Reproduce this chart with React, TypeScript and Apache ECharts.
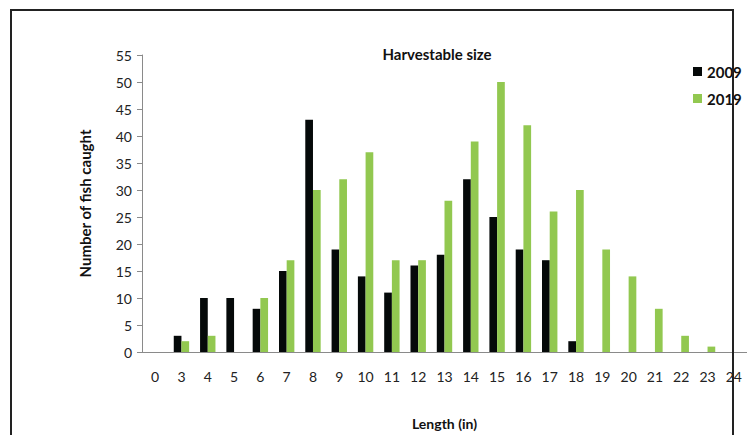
import React, { useEffect, useRef } from "react";
import * as echarts from "echarts";

const categories = ["0", "3", "4", "5", "6", "7", "8", "9", "10", "11", "12", "13", "14", "15", "16", "17", "18", "19", "20", "21", "22", "23", "24"];
const values2009 = [0, 3, 10, 10, 8, 15, 43, 19, 14, 11, 16, 18, 32, 25, 19, 17, 2, 0, 0, 0, 0, 0, 0];
const values2019 = [0, 2, 3, 0, 10, 17, 30, 32, 37, 17, 17, 28, 39, 50, 42, 26, 30, 19, 14, 8, 3, 1, 0];
const seriesNames = ["2009", "2019"];

const FONT = "Lato, 'Open Sans', sans-serif";

export default function App() {
  const ref = useRef<HTMLDivElement>(null);
  useEffect(() => {
    if (!ref.current) return;
    const chart = echarts.init(ref.current, null, { renderer: "svg" });
    chart.setOption({
      animation: false,
      backgroundColor: "#ffffff",
      textStyle: { fontFamily: FONT },
      title: {
        text: "Harvestable size",
        left: 432,
        top: 41,
        textAlign: "center",
        textStyle: { fontSize: 15, fontWeight: "bold", color: "#111", fontFamily: FONT },
      },
      legend: {
        orient: "vertical",
        left: 688,
        top: 59,
        itemWidth: 9,
        itemHeight: 9,
        itemGap: 12,
        icon: "rect",
        textStyle: { fontSize: 15, fontWeight: "bold", color: "#111", fontFamily: FONT },
        data: seriesNames,
      },
      grid: { left: 142, top: 55, right: -10, bottom: 82, containLabel: false },
      xAxis: {
        type: "category",
        data: categories,
        axisLine: { lineStyle: { color: "#8a8a8a", width: 1 } },
        axisTick: { show: false },
        axisLabel: { color: "#222", fontSize: 14, margin: 17, fontFamily: FONT },
        name: "Length (in)",
        nameLocation: "middle",
        nameGap: 64,
        nameTextStyle: { fontSize: 14, fontWeight: "bold", color: "#111", fontFamily: FONT },
      },
      yAxis: {
        type: "value",
        min: 0,
        max: 55,
        interval: 5,
        splitLine: { show: false },
        axisLine: { show: true, lineStyle: { color: "#8a8a8a", width: 1 } },
        axisTick: { show: true, length: 5, lineStyle: { color: "#8a8a8a" } },
        axisLabel: { color: "#222", fontSize: 14, margin: 10, fontFamily: FONT },
        name: "Number of fish caught",
        nameLocation: "middle",
        nameGap: 50,
        nameRotate: 90,
        nameTextStyle: { fontSize: 15, fontWeight: "bold", color: "#111", fontFamily: FONT },
      },
      series: [
        {
          name: seriesNames[0],
          type: "bar",
          data: values2009,
          barWidth: 7.7,
          barGap: "0%",
          itemStyle: { color: "#050909" },
        },
        {
          name: seriesNames[1],
          type: "bar",
          data: values2019,
          barWidth: 7.7,
          barGap: "0%",
          itemStyle: { color: "#92C850" },
        },
      ],
      graphic: [
        {
          type: "polyline",
          shape: { points: [[11, 460], [11, 10], [733, 10], [733, 460]] },
          style: { stroke: "#222", lineWidth: 2, fill: "none" },
          z: 100,
        },
      ],
    });
    return () => chart.dispose();
  }, []);
  return <div ref={ref} style={{ width: 747, height: 435, position: "absolute", left: 0, top: 0 }} />;
}
